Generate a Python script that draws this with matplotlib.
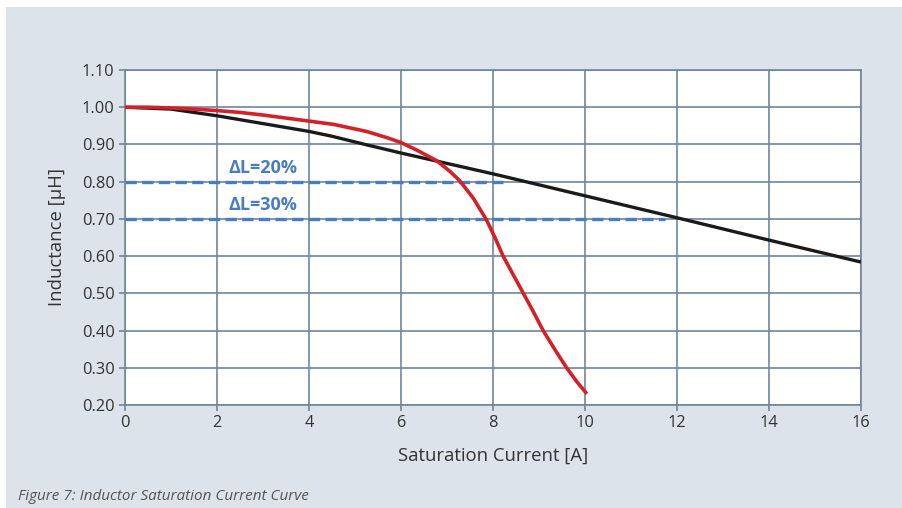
import matplotlib.pyplot as plt
from matplotlib.patches import Rectangle

# black curve: inductance vs current (linear-ish roll-off)
black_x = [0, 1, 2, 3, 4, 4.5, 5.25, 6, 8, 10, 12, 14, 16]
black_y = [1.0, 0.995, 0.977, 0.956, 0.935, 0.922, 0.899, 0.877, 0.821, 0.762, 0.703, 0.643, 0.584]

# red curve: hard saturation
red_x = [0, 0.5, 1, 1.5, 2, 2.5, 3, 3.8, 4.53, 5.25, 5.7, 6, 6.34, 6.78, 7.07, 7.28, 7.57,
         7.86, 8.05, 8.22, 8.44, 8.66, 8.88, 9.09, 9.35, 9.6, 9.82, 10.04]
red_y = [1.0, 1.0, 0.998, 0.995, 0.991, 0.986, 0.979, 0.966, 0.954, 0.935, 0.918, 0.905,
         0.885, 0.856, 0.827, 0.802, 0.756, 0.697, 0.648, 0.60, 0.55, 0.50, 0.45, 0.40,
         0.348, 0.30, 0.263, 0.23]

# delta-L reference lines
dl_labels = ["ΔL=20%", "ΔL=30%"]
dl_levels = [0.80, 0.70]
dl_ends = [8.28, 11.75]

plt.rcParams['font.family'] = ['Open Sans', 'DejaVu Sans']

fig = plt.figure(figsize=(9.02, 5.08), dpi=100)
fig.patch.set_facecolor('white')
fig.patches.append(Rectangle((6 / 902, 0), 1, 1 - 7 / 508, transform=fig.transFigure,
                             facecolor='#dce3ea', edgecolor='none', zorder=-10))

ax = fig.add_axes([125 / 902, 1 - 405 / 508, 736 / 902, 335 / 508])
ax.set_facecolor('white')

grid_col = '#71869a'
ax.set_xlim(0, 16)
ax.set_ylim(0.2, 1.1)
ax.set_xticks(range(0, 17, 2))
ax.set_yticks([0.2 + 0.1 * i for i in range(10)])
ax.set_yticklabels([f"{0.2 + 0.1 * i:.2f}" for i in range(10)])
ax.grid(True, color=grid_col, linewidth=1.2, zorder=0)
ax.set_axisbelow(True)
for s in ax.spines.values():
    s.set_color(grid_col)
    s.set_linewidth(1.2)
ax.tick_params(colors=grid_col, labelcolor='#333333', labelsize=11.8, length=4, width=1.2)

for lvl, end, lab in zip(dl_levels, dl_ends, dl_labels):
    ax.plot([0, end], [lvl, lvl], color='#4a7cc4', linewidth=2.4, dashes=(3.4, 1.6), zorder=2)
    ax.text(3, lvl + 0.036, lab, color='#4a7cc4', fontsize=13, fontweight='bold',
            ha='center', va='center', zorder=4)

ax.plot(black_x, black_y, color='#1a1a1a', linewidth=2.4, zorder=3, solid_capstyle='butt')
ax.plot(red_x, red_y, color='#d42027', linewidth=2.6, zorder=3, solid_capstyle='butt',
        solid_joinstyle='round')

ax.set_xlabel('Saturation Current [A]', fontsize=13.3, color='#333333')
ax.set_ylabel('Inductance [μH]', fontsize=13.3, color='#333333')
ax.xaxis.set_label_coords(0.5, -0.125)
ax.yaxis.set_label_coords(-0.08, 0.5)

fig.text(18 / 902, 1 - 497 / 508, 'Figure 7: Inductor Saturation Current Curve',
         fontsize=11, style='italic', color='#555555', ha='left', va='center')

fig.savefig('out.png', dpi=100)
